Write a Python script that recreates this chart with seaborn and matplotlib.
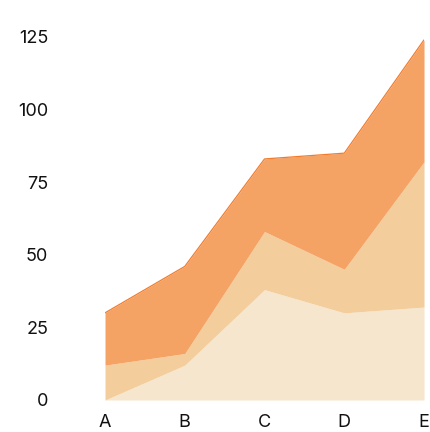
import numpy as np
import pandas as pd
import matplotlib
matplotlib.use("Agg")
import matplotlib.pyplot as plt
import seaborn as sns


# DATA

categories = ["A", "B", "C", "D", "E"]

series_1 = [0, 12, 38, 30, 32]
series_2 = [12, 4, 20, 15, 50]
series_3 = [18, 30, 25, 40, 42]

y_ticks = [0, 25, 50, 75, 100, 125]


# STYLE

sns.set_theme(style="white")
plt.rcParams["font.family"] = ["Inter", "DejaVu Sans"]

COLORS = ["#f5e6cd", "#f3cd9c", "#f5a265"]
EDGE_COLOR = "#f07c2e"


def main():

    df = pd.DataFrame({
        "category": categories,
        "s1": series_1,
        "s2": series_2,
        "s3": series_3,
    })

    x = np.arange(len(categories))

    fig = plt.figure(figsize=(4.30, 4.32), dpi=100)

    ax = fig.add_axes([0.2442, 0.0741, 0.7419, 0.8403])

    ax.stackplot(
        x,
        df["s1"],
        df["s2"],
        df["s3"],
        colors=COLORS,
        linewidth=0
    )

    top = df["s1"] + df["s2"] + df["s3"]

    sns.lineplot(
        x=x,
        y=top,
        color=EDGE_COLOR,
        linewidth=0.9,
        ax=ax
    )

    ax.set_xlim(0, len(categories) - 1)
    ax.set_ylim(0, 125)

    ax.set_xticks(x)
    ax.set_xticklabels(categories)

    ax.set_yticks(y_ticks)
    ax.set_yticklabels([str(t) for t in y_ticks])

    ax.tick_params(
        axis="y",
        length=0,
        pad=41,
        labelsize=13,
        labelcolor="#111111"
    )

    ax.tick_params(
        axis="x",
        length=0,
        pad=10,
        labelsize=13,
        labelcolor="#111111"
    )

    for side in ["left", "right", "top", "bottom"]:
        ax.spines[side].set_visible(False)

    ax.grid(False)
    ax.set_xlabel("")
    ax.set_ylabel("")

    fig.savefig("out.png", dpi=100)


if __name__ == "__main__":
    main()
